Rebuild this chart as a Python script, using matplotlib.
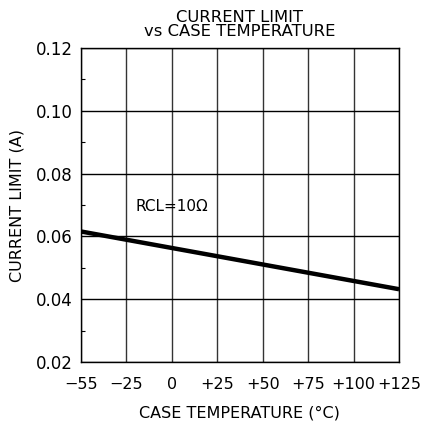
import numpy as np
import matplotlib
matplotlib.use("Agg")
import matplotlib.pyplot as plt
from matplotlib.ticker import FixedLocator, MultipleLocator

# Data
temp_ticks = [-55, -25, 0, 25, 50, 75, 100, 125]
temp_labels = ["\u221255", "\u221225", "0", "+25", "+50", "+75", "+100", "+125"]
curve_temp = [-55, 125]
curve_current = [0.0616, 0.0432]
y_ticks = [0.02, 0.04, 0.06, 0.08, 0.10, 0.12]
annotation = "RCL=10\u03a9"

plt.rcParams['font.family'] = ['DejaVu Sans']

fig = plt.figure(figsize=(4.25, 4.29), dpi=100)
ax = fig.add_axes([0.19, 0.156, 0.749, 0.732])

pos = np.arange(len(temp_ticks), dtype=float)
tt = np.array(temp_ticks, dtype=float)

def fwd(x):
    x = np.asarray(x, dtype=float)
    slope_l = (pos[1] - pos[0]) / (tt[1] - tt[0])
    slope_r = (pos[-1] - pos[-2]) / (tt[-1] - tt[-2])
    return np.where(x < tt[0], pos[0] + (x - tt[0]) * slope_l,
           np.where(x > tt[-1], pos[-1] + (x - tt[-1]) * slope_r,
                    np.interp(x, tt, pos)))

def inv(p):
    p = np.asarray(p, dtype=float)
    slope_l = (tt[1] - tt[0]) / (pos[1] - pos[0])
    slope_r = (tt[-1] - tt[-2]) / (pos[-1] - pos[-2])
    return np.where(p < pos[0], tt[0] + (p - pos[0]) * slope_l,
           np.where(p > pos[-1], tt[-1] + (p - pos[-1]) * slope_r,
                    np.interp(p, pos, tt)))

ax.set_xscale('function', functions=(fwd, inv))
ax.set_xlim(temp_ticks[0], temp_ticks[-1])
ax.set_ylim(y_ticks[0], y_ticks[-1])

ax.xaxis.set_major_locator(FixedLocator(temp_ticks))
ax.set_xticklabels(temp_labels)
ax.xaxis.set_minor_locator(FixedLocator([]))
ax.yaxis.set_major_locator(FixedLocator(y_ticks))
ax.set_yticklabels([f"{v:.2f}" for v in y_ticks])
ax.yaxis.set_minor_locator(MultipleLocator(0.01))

ax.grid(True, which='major', axis='x', color='#333333', linewidth=1.0)
ax.grid(True, which='major', axis='y', color='#000000', linewidth=1.0)
ax.set_axisbelow(True)

ax.tick_params(axis='x', which='major', length=0, labelsize=11.5, pad=10.5, colors='black')
ax.tick_params(axis='y', which='major', length=0, labelsize=12, pad=6, colors='black')
ax.tick_params(axis='y', which='minor', direction='in', length=3, width=0.8, left=True, right=False)
for s in ax.spines.values():
    s.set_linewidth(1.0)
    s.set_color('black')

ax.plot(curve_temp, curve_current, color='black', linewidth=3.2, solid_capstyle='butt')

ax.text(-20, 0.0694, annotation, fontsize=11, ha='left', va='center')

ax.set_xlabel("CASE TEMPERATURE (\u00b0C)", fontsize=11.5, labelpad=10)
ax.set_ylabel("CURRENT LIMIT (A)", fontsize=11.5, labelpad=8)
ax.set_title("CURRENT LIMIT\nvs CASE TEMPERATURE", fontsize=11.8, pad=8.5, linespacing=0.92)

fig.savefig("out.png", dpi=100)
